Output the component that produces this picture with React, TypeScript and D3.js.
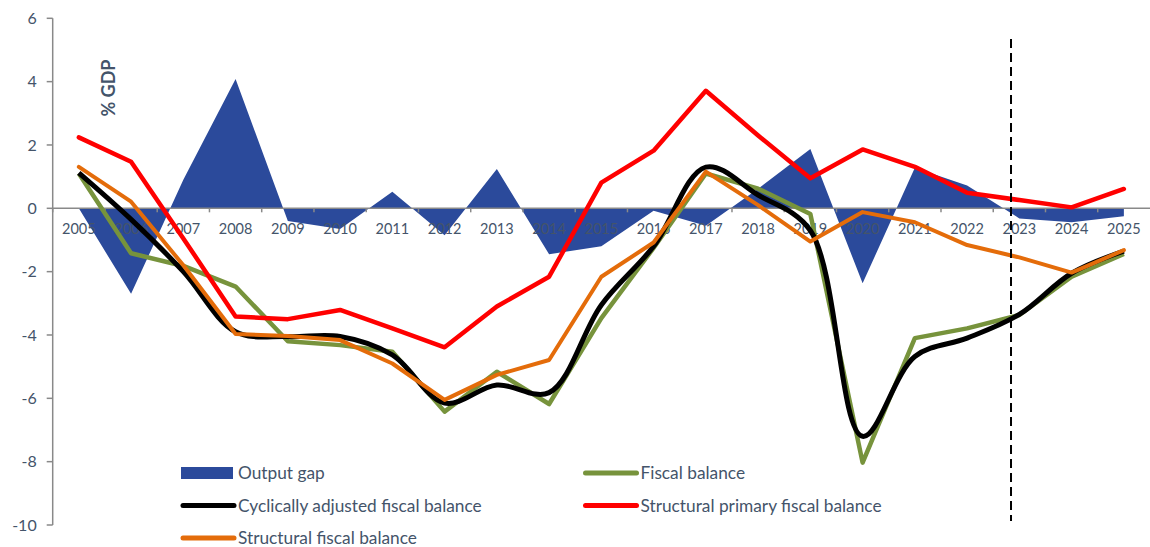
import React from "react";
import * as d3 from "d3";

const years = [2005, 2006, 2007, 2008, 2009, 2010, 2011, 2012, 2013, 2014, 2015, 2016, 2017, 2018, 2019, 2020, 2021, 2022, 2023, 2024, 2025];
const outputGap = [0.0, -2.7, 0.9, 4.08, -0.4, -0.65, 0.52, -0.85, 1.24, -1.45, -1.2, -0.08, -0.55, 0.62, 1.87, -2.37, 1.28, 0.72, -0.32, -0.44, -0.25];
const fiscalBalance = [1.1, -1.42, -1.82, -2.47, -4.2, -4.32, -4.53, -6.42, -5.16, -6.18, -3.47, -1.25, 1.1, 0.62, -0.18, -8.03, -4.1, -3.79, -3.37, -2.16, -1.44];
const cyclicallyAdjusted = [1.12, -0.35, -2.0, -3.9, -4.05, -4.05, -4.63, -6.15, -5.58, -5.82, -3.05, -1.2, 1.3, 0.42, -0.7, -7.2, -4.68, -4.1, -3.35, -2.05, -1.35];
const structuralPrimary = [2.24, 1.47, -0.95, -3.42, -3.5, -3.21, -3.79, -4.39, -3.1, -2.16, 0.81, 1.82, 3.71, 2.3, 0.95, 1.86, 1.31, 0.49, 0.26, 0.03, 0.61];
const structural = [1.31, 0.21, -1.8, -3.97, -4.03, -4.16, -4.9, -6.05, -5.26, -4.79, -2.16, -1.08, 1.16, 0.1, -1.05, -0.12, -0.44, -1.16, -1.55, -2.03, -1.32];
const yTicks = [-10, -8, -6, -4, -2, 0, 2, 4, 6];
const forecastAfter = 2022;

const W = 1150;
const H = 547;
const FONT = "Lato, 'Open Sans', sans-serif";
const TXT = "#44546A";
const AXIS = "#898989";

export default function App() {
  const left = 52.7;
  const right = 1150;
  const x = d3.scaleBand<number>().domain(years).range([left, right]).padding(0);
  const cx = (yr: number) => (x(yr) as number) + x.bandwidth() / 2;
  const y = d3.scaleLinear().domain([-10, 6]).range([525, 18.3]);

  const area = d3
    .area<number>()
    .x((_, i) => cx(years[i]))
    .y0(y(0))
    .y1((d) => y(d));

  const line = d3
    .line<number>()
    .x((_, i) => cx(years[i]))
    .y((d) => y(d));
  const smooth = d3
    .line<number>()
    .x((_, i) => cx(years[i]))
    .y((d) => y(d))
    .curve(d3.curveCatmullRom.alpha(0.5));

  const dashX = cx(forecastAfter) + x.bandwidth() * 0.84;

  const legend = [
    { label: "Output gap", type: "area", color: "#2B4A9B", col: 0, row: 0 },
    { label: "Fiscal balance", type: "line", color: "#77933C", col: 1, row: 0 },
    { label: "Cyclically adjusted fiscal balance", type: "line", color: "#000000", col: 0, row: 1 },
    { label: "Structural primary fiscal balance", type: "line", color: "#FF0000", col: 1, row: 1 },
    { label: "Structural fiscal balance", type: "line", color: "#E46C0A", col: 0, row: 2 },
  ];
  const legCols = [181, 583.5];
  const legRows = [473, 505.5, 538];

  return (
    <svg width={W} height={H} style={{ position: "absolute", left: 0, top: 0, background: "#fff" }} fontFamily={FONT}>
      <path d={area(outputGap) || ""} fill="#2B4A9B" />

      {/* y axis */}
      <line x1={left} x2={left} y1={y(6)} y2={y(-10)} stroke={AXIS} strokeWidth={1.5} />
      {yTicks.map((t) => (
        <g key={t}>
          <line x1={left - 6} x2={left} y1={y(t)} y2={y(t)} stroke={AXIS} strokeWidth={1.5} />
          <text x={left - 16} y={y(t)} dy="0.35em" textAnchor="end" fontSize={16} fill={TXT}>
            {t}
          </text>
        </g>
      ))}

      {/* x axis at zero */}
      <line x1={left} x2={right} y1={y(0)} y2={y(0)} stroke={AXIS} strokeWidth={1.5} />
      {years.map((yr) => (
        <line key={"t" + yr} x1={x(yr) as number} x2={x(yr) as number} y1={y(0)} y2={y(0) + 4} stroke={AXIS} strokeWidth={1.5} />
      ))}
      {years.map((yr) => (
        <text key={"l" + yr} x={cx(yr)} y={y(0) + 26} textAnchor="middle" fontSize={14.5} fill={TXT}>
          {yr}
        </text>
      ))}

      <text
        transform={`translate(${115},${88}) rotate(-90)`}
        textAnchor="middle"
        fontSize={18}
        fontWeight="bold"
        fill={TXT}
      >
        % GDP
      </text>

      <path d={line(fiscalBalance) || ""} fill="none" stroke="#77933C" strokeWidth={4.5} strokeLinejoin="round" />
      <path d={smooth(cyclicallyAdjusted) || ""} fill="none" stroke="#000000" strokeWidth={5} strokeLinejoin="round" />
      <path d={line(structuralPrimary) || ""} fill="none" stroke="#FF0000" strokeWidth={4.5} strokeLinejoin="round" strokeLinecap="round" />
      <path d={line(structural) || ""} fill="none" stroke="#E46C0A" strokeWidth={4} strokeLinejoin="round" strokeLinecap="round" />

      <line x1={dashX} x2={dashX} y1={39} y2={521} stroke="#000" strokeWidth={2} strokeDasharray="9,5" />

      {legend.map((l) => {
        const lx = legCols[l.col];
        const ly = legRows[l.row];
        return (
          <g key={l.label}>
            {l.type === "area" ? (
              <rect x={lx} y={ly - 6} width={52} height={12} fill={l.color} />
            ) : (
              <line x1={lx + 2} x2={lx + 53} y1={ly} y2={ly} stroke={l.color} strokeWidth={5} strokeLinecap="round" />
            )}
            <text x={lx + 57} y={ly} dy="0.36em" fontSize={17.3} fill={TXT}>
              {l.label}
            </text>
          </g>
        );
      })}
    </svg>
  );
}
